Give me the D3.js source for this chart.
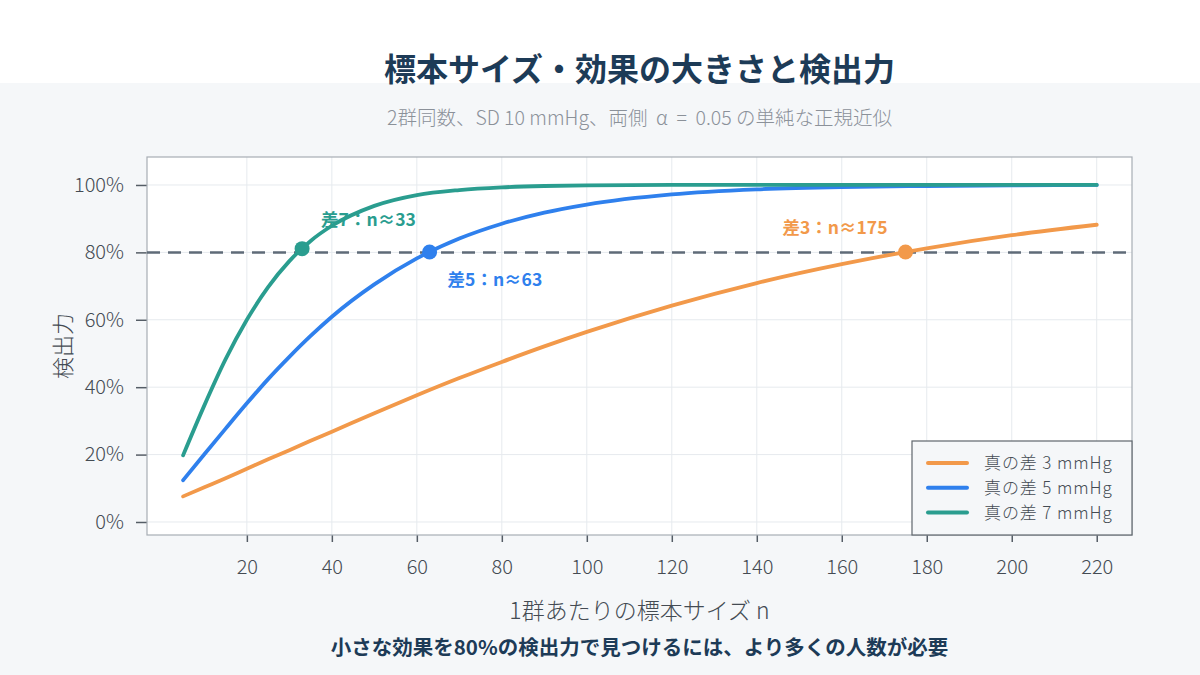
<!DOCTYPE html>
<html>
<head>
<meta charset="utf-8">
<script src="https://cdn.jsdelivr.net/npm/d3@7"></script>
<style>
  body { margin: 0; background: #f5f7f9; }
  svg { display: block; }
  text { font-family: "Noto Sans CJK JP", "Noto Sans", sans-serif; white-space: pre; }
</style>
</head>
<body>
<div id="chart"></div>
<script>
// sample sizes per group, read along the x axis
var sampleSizes = [5, 10, 15, 20, 25, 30, 35, 40, 50, 60, 70, 80, 90, 100, 120, 140, 160, 180, 200, 220];
// power at the sample sizes above
var powerDiff3 = [0.076, 0.103, 0.130, 0.158, 0.186, 0.213, 0.241, 0.268, 0.323, 0.376, 0.427, 0.475, 0.521, 0.564, 0.642, 0.709, 0.765, 0.812, 0.851, 0.882];
var powerDiff5 = [0.124, 0.201, 0.277, 0.352, 0.424, 0.490, 0.552, 0.609, 0.705, 0.782, 0.841, 0.885, 0.918, 0.942, 0.972, 0.987, 0.994, 0.997, 0.999, 1.000];
var powerDiff7 = [0.198, 0.346, 0.483, 0.600, 0.697, 0.774, 0.834, 0.879, 0.938, 0.970, 0.985, 0.993, 0.997, 0.999, 1.000, 1.000, 1.000, 1.000, 1.000, 1.000];
var seriesNames = ["真の差 3 mmHg", "真の差 5 mmHg", "真の差 7 mmHg"];
var seriesColors = ["#f2994a", "#2f80ed", "#2a9d8f"];
// where each curve reaches 80%
var markerN = [175, 63, 33];
var markerPower = [0.801, 0.801, 0.811];
var markerLabels = ["差3：n≈175", "差5：n≈63", "差7：n≈33"];
var xTicks = [20, 40, 60, 80, 100, 120, 140, 160, 180, 200, 220];
var yTicks = [0, 0.2, 0.4, 0.6, 0.8, 1.0];
var targetPower = 0.8;

var W = 1200, H = 675;
var margin = {top: 157, right: 68, bottom: 140, left: 147},
    width = W - margin.left - margin.right,
    height = H - margin.top - margin.bottom;

var svg = d3.select("#chart").append("svg")
  .attr("width", W).attr("height", H);

svg.append("rect").attr("width", W).attr("height", H).attr("fill", "#f5f7f9");
svg.append("rect").attr("width", W).attr("height", 83).attr("fill", "#ffffff");

svg.append("text")
  .attr("x", margin.left + width / 2).attr("y", 81)
  .attr("text-anchor", "middle")
  .style("font-size", "32px").style("font-weight", "700").style("fill", "#1d3b57")
  .text("標本サイズ・効果の大きさと検出力");
svg.append("text")
  .attr("x", margin.left + width / 2).attr("y", 125)
  .attr("text-anchor", "middle")
  .style("font-size", "19.5px").style("font-weight", "300").style("fill", "#8b9199")
  .text("2群同数、SD 10 mmHg、両側  α  =  0.05 の単純な正規近似");

var g = svg.append("g")
  .attr("transform", "translate(" + margin.left + "," + margin.top + ")");

var x = d3.scaleLinear().domain([-3.5, 228.3]).range([0, width]);
var y = d3.scaleLinear().domain([-0.0386, 1.083]).range([height, 0]);

g.append("rect").attr("width", width).attr("height", height).attr("fill", "#ffffff");

// grid
g.append("g").selectAll("line").data(xTicks).enter().append("line")
  .attr("x1", d => x(d)).attr("x2", d => x(d))
  .attr("y1", 0).attr("y2", height)
  .attr("stroke", "#e6eaee").attr("stroke-width", 1);
g.append("g").selectAll("line").data(yTicks).enter().append("line")
  .attr("y1", d => y(d)).attr("y2", d => y(d))
  .attr("x1", 0).attr("x2", width)
  .attr("stroke", "#e6eaee").attr("stroke-width", 1);

// axes
var xAxis = g.append("g")
  .attr("transform", "translate(0," + height + ")")
  .call(d3.axisBottom(x).tickValues(xTicks).tickSize(7).tickPadding(18));
var yAxis = g.append("g")
  .call(d3.axisLeft(y).tickValues(yTicks).tickSize(11).tickPadding(12).tickFormat(d3.format(".0%")));
[xAxis, yAxis].forEach(function(a) {
  a.select(".domain").remove();
  a.selectAll("line").attr("stroke", "#555d66").attr("stroke-width", 1.5);
  a.selectAll("text").style("font-size", "20px").style("font-weight", "300").style("fill", "#444b53")
    .style("font-family", "'Noto Sans CJK JP', sans-serif");
});

g.append("rect").attr("width", width).attr("height", height)
  .attr("fill", "none").attr("stroke", "#a7adb4").attr("stroke-width", 1.2);

// target line
g.append("line")
  .attr("x1", 0).attr("x2", width)
  .attr("y1", y(targetPower)).attr("y2", y(targetPower))
  .attr("stroke", "#5f6b78").attr("stroke-width", 2.5)
  .attr("stroke-dasharray", "13,8");

var series = [powerDiff3, powerDiff5, powerDiff7];
var line = d3.line()
  .x(function(d, i) { return x(sampleSizes[i]); })
  .y(function(d) { return y(d); })
  .curve(d3.curveMonotoneX);

g.append("g").selectAll("path").data(series).enter().append("path")
  .attr("d", line)
  .attr("fill", "none")
  .attr("stroke", function(d, i) { return seriesColors[i]; })
  .attr("stroke-width", 3.8)
  .attr("stroke-linecap", "round");

// markers and labels
var labelDx = [-18, 18, 19];
var labelDy = [-18, 34, -23];
var labelAnchor = ["end", "start", "start"];
markerN.forEach(function(n, i) {
  g.append("circle")
    .attr("cx", x(n)).attr("cy", y(markerPower[i])).attr("r", 7.5)
    .attr("fill", seriesColors[i]);
  g.append("text")
    .attr("x", x(n) + labelDx[i]).attr("y", y(markerPower[i]) + labelDy[i])
    .attr("text-anchor", labelAnchor[i])
    .style("font-size", "17.5px").style("font-weight", "700")
    .style("fill", seriesColors[i])
    .text(markerLabels[i]);
});

// legend
var lg = g.append("g").attr("transform", "translate(" + (width - 220) + "," + (height - 94) + ")");
lg.append("rect").attr("width", 220).attr("height", 94)
  .attr("fill", "#f5f7f9").attr("stroke", "#5f666d").attr("stroke-width", 1.2);
seriesNames.forEach(function(name, i) {
  var yy = 22 + i * 24.8;
  lg.append("line").attr("x1", 16).attr("x2", 55).attr("y1", yy).attr("y2", yy)
    .attr("stroke", seriesColors[i]).attr("stroke-width", 4).attr("stroke-linecap", "round");
  lg.append("text").attr("x", 72).attr("y", yy + 6)
    .style("font-size", "17px").style("font-weight", "300").style("fill", "#444b53")
    .style("letter-spacing", "0.9px")
    .text(name);
});

// axis titles
svg.append("text")
  .attr("x", margin.left + width / 2).attr("y", 619)
  .attr("text-anchor", "middle")
  .style("font-size", "23px").style("font-weight", "300").style("fill", "#444b53")
  .text("1群あたりの標本サイズ n");
svg.append("text")
  .attr("transform", "translate(71," + (margin.top + height / 2) + ") rotate(-90)")
  .attr("text-anchor", "middle")
  .style("font-size", "22px").style("font-weight", "300").style("fill", "#444b53")
  .text("検出力");

svg.append("text")
  .attr("x", margin.left + width / 2).attr("y", 655)
  .attr("text-anchor", "middle")
  .style("font-size", "20.5px").style("font-weight", "700").style("fill", "#1d3b57")
  .text("小さな効果を80%の検出力で見つけるには、より多くの人数が必要");
</script>
</body>
</html>
